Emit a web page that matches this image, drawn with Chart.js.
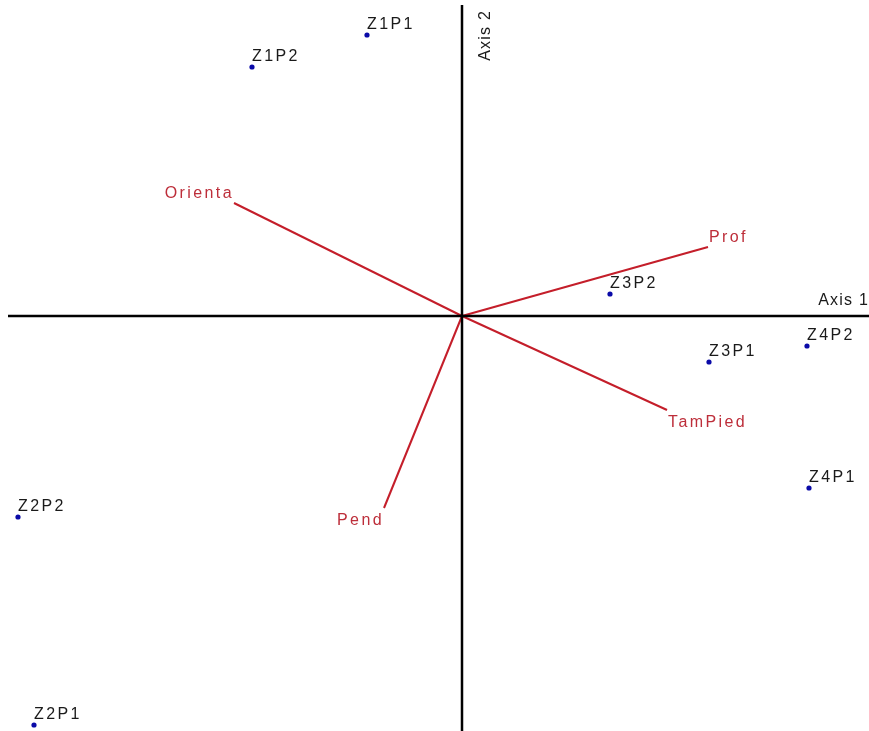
<!DOCTYPE html>
<html>
<head>
<meta charset="utf-8">
<title>Biplot</title>
<script src="https://cdn.jsdelivr.net/npm/chart.js@4.4.1/dist/chart.umd.min.js"></script>
<style>
  html, body { margin: 0; padding: 0; background: #fff; }
  #wrap { width: 869px; height: 731px; position: relative; }
</style>
</head>
<body>
<div id="wrap"><canvas id="biplot"></canvas></div>
<script>
// Sites (row scores)
var siteNames = ["Z1P1", "Z1P2", "Z2P2", "Z2P1", "Z3P2", "Z3P1", "Z4P2", "Z4P1"];
var siteAxis1 = [-0.95, -2.10, -4.44, -4.28, 1.48, 2.47, 3.45, 3.47];
var siteAxis2 = [2.81, 2.49, -2.01, -4.09, 0.22, -0.46, -0.30, -1.72];

// Variables (arrows from origin)
var varNames = ["Orienta", "Prof", "TamPied", "Pend"];
var varAxis1 = [-2.28, 2.46, 2.05, -0.78];
var varAxis2 = [1.13, 0.69, -0.94, -1.92];

// Axis extents
var axis1Range = [-4.54, 4.07];
var axis2Range = [-4.15, 3.11];
var xLimits = [-4.62, 4.07];
var yLimits = [-4.15, 3.16];

var redLine = "#c41e2a";
var redText = "#bd2e3a";

var sitePoints = siteAxis1.map(function (v, i) { return { x: v, y: siteAxis2[i] }; });

var datasets = [
    {
        label: "Axis 1",
        type: "line",
        data: [{ x: axis1Range[0], y: 0 }, { x: axis1Range[1], y: 0 }],
        borderColor: "#000",
        borderWidth: 2.5,
        pointRadius: 0
    },
    {
        label: "Axis 2",
        type: "line",
        data: [{ x: 0, y: axis2Range[0] }, { x: 0, y: axis2Range[1] }],
        borderColor: "#000",
        borderWidth: 2.5,
        pointRadius: 0
    }
];

varNames.forEach(function (name, i) {
    datasets.push({
        label: name,
        type: "line",
        data: [{ x: 0, y: 0 }, { x: varAxis1[i], y: varAxis2[i] }],
        borderColor: redLine,
        borderWidth: 2,
        pointRadius: 0
    });
});

datasets.push({
    label: "sites",
    type: "scatter",
    data: sitePoints,
    backgroundColor: "#0a0aa8",
    borderColor: "#0a0aa8",
    pointRadius: 2.6,
    borderWidth: 0
});

// text labels for sites, arrows and axes
var labelPlugin = {
    id: "biplotLabels",
    afterDatasetsDraw: function (chart) {
        var ctx = chart.ctx;
        var xs = chart.scales.x, ys = chart.scales.y;
        ctx.save();
        ctx.font = "16px 'Liberation Sans', Arial, sans-serif";
        ctx.letterSpacing = "2.4px";
        ctx.textBaseline = "alphabetic";

        ctx.fillStyle = "#1a1a1a";
        ctx.textAlign = "left";
        siteNames.forEach(function (name, i) {
            var px = xs.getPixelForValue(siteAxis1[i]);
            var py = ys.getPixelForValue(siteAxis2[i]);
            ctx.fillText(name, px, py - 6);
        });

        ctx.fillStyle = redText;
        varNames.forEach(function (name, i) {
            var px = xs.getPixelForValue(varAxis1[i]);
            var py = ys.getPixelForValue(varAxis2[i]);
            var right = varAxis1[i] < 0;
            var below = varAxis2[i] < 0;
            ctx.textAlign = right ? "right" : "left";
            ctx.fillText(name, px + (right ? 0 : 1), below ? py + 17 : py - 5);
        });

        // axis titles
        ctx.fillStyle = "#1a1a1a";
        ctx.letterSpacing = "1.2px";
        ctx.textAlign = "right";
        ctx.fillText("Axis 1", xs.getPixelForValue(axis1Range[1]), ys.getPixelForValue(0) - 11);

        ctx.translate(xs.getPixelForValue(0) + 16, ys.getPixelForValue(axis2Range[1]) + 5);
        ctx.rotate(-Math.PI / 2);
        ctx.textAlign = "right";
        ctx.textBaseline = "top";
        ctx.fillText("Axis 2", 0, 0);
        ctx.restore();
    }
};

var ctx = document.getElementById("biplot").getContext("2d");
var biplot = new Chart(ctx, {
    type: "scatter",
    data: { datasets: datasets },
    options: {
        responsive: true,
        maintainAspectRatio: false,
        animation: false,
        layout: { padding: 0, autoPadding: false },
        plugins: {
            legend: { display: false },
            tooltip: { enabled: false }
        },
        scales: {
            x: { type: "linear", min: xLimits[0], max: xLimits[1], display: false },
            y: { type: "linear", min: yLimits[0], max: yLimits[1], display: false }
        }
    },
    plugins: [labelPlugin]
});
</script>
</body>
</html>
